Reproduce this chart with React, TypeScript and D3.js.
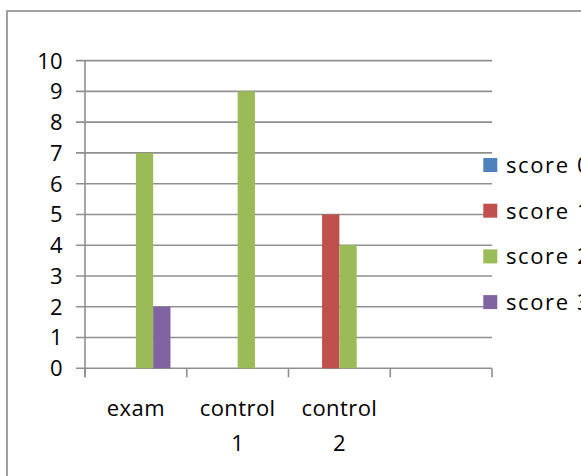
import React from "react";
import * as d3 from "d3";

// Chart data
const categories = ["exam", "control 1", "control 2", ""];
const seriesNames = ["score 0", "score 1", "score 2", "score 3"];
const score0 = [0, 0, 0, 0];
const score1 = [0, 0, 5, 0];
const score2 = [7, 9, 4, 0];
const score3 = [2, 0, 0, 0];
const yTicks = [0, 1, 2, 3, 4, 5, 6, 7, 8, 9, 10];
const colors = ["#4F81BD", "#C0504D", "#9BBB59", "#8064A2"];

const seriesValues = [score0, score1, score2, score3];

const W = 581;
const H = 476;
const plot = { left: 85, right: 492, top: 60.6, bottom: 368.3 };
const FONT = "'Open Sans', Calibri, Arial, sans-serif";
const GRID = "#8f8f8f";

export default function App() {
  const x0 = d3
    .scaleBand<string>()
    .domain(categories.map((c, i) => `${i}`))
    .range([plot.left, plot.right])
    .padding(0);
  const cw = x0.bandwidth();
  const gap = cw * 0.16;
  const x1 = d3
    .scaleBand<string>()
    .domain(seriesNames)
    .range([gap, cw - gap])
    .padding(0);
  const y = d3.scaleLinear().domain([0, 10]).range([plot.bottom, plot.top]);

  const tickXs = d3.range(categories.length + 1).map((i) => plot.left + i * cw);

  return (
    <svg
      width={W}
      height={H}
      style={{ position: "absolute", left: 0, top: 0, display: "block", background: "#fff" }}
      fontFamily={FONT}
    >
      {/* chart frame */}
      <rect x={7} y={11} width={W + 20} height={H + 20} fill="#fff" stroke="#8a8a8a" strokeWidth={1.6} />

      {/* horizontal gridlines with left tick marks */}
      {yTicks.map((t) => (
        <g key={t}>
          <line x1={plot.left - 9} x2={plot.right} y1={y(t)} y2={y(t)} stroke={GRID} strokeWidth={1.6} />
          <text x={62.5} y={y(t)} dy="0.36em" textAnchor="end" fontSize={22} fill="#000">
            {t}
          </text>
        </g>
      ))}

      {/* bars */}
      {categories.map((c, ci) => (
        <g key={ci} transform={`translate(${x0(`${ci}`)},0)`}>
          {seriesNames.map((s, si) => {
            const v = seriesValues[si][ci];
            if (!v) return null;
            return (
              <rect
                key={s}
                x={x1(s)}
                y={y(v)}
                width={x1.bandwidth()}
                height={y(0) - y(v)}
                fill={colors[si]}
              />
            );
          })}
        </g>
      ))}

      {/* value axis */}
      <line x1={plot.left} x2={plot.left} y1={plot.top} y2={plot.bottom + 9} stroke={GRID} strokeWidth={1.6} />
      {/* category axis ticks */}
      {tickXs.map((tx, i) => (
        <line key={i} x1={tx} x2={tx} y1={plot.bottom} y2={plot.bottom + 9} stroke={GRID} strokeWidth={1.6} />
      ))}

      {/* category labels */}
      {categories.map((c, ci) => {
        const cx = (x0(`${ci}`) as number) + cw / 2;
        const lines = c ? c.split(" ") : [];
        return (
          <text key={ci} x={cx} y={416} textAnchor="middle" fontSize={22} fill="#000" letterSpacing={0.4}>
            {lines.map((ln, li) => (
              <tspan key={li} x={cx} dy={li === 0 ? 0 : 35}>
                {ln}
              </tspan>
            ))}
          </text>
        );
      })}

      {/* legend */}
      {seriesNames.map((s, si) => {
        const ly = 165 + si * 45.7;
        return (
          <g key={s}>
            <rect x={483.3} y={ly - 7} width={14} height={14} fill={colors[si]} />
            <text x={506} y={ly} dy="0.36em" fontSize={22} fill="#000" letterSpacing={1.6}>
              {s}
            </text>
          </g>
        );
      })}
    </svg>
  );
}
